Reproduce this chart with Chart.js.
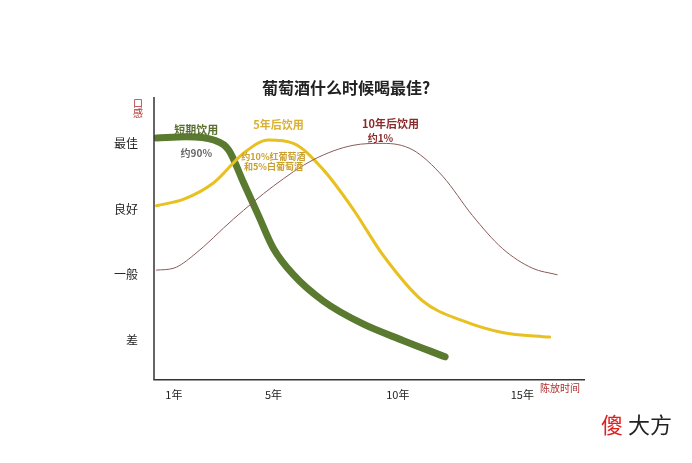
<!DOCTYPE html><html><head><meta charset="utf-8"><script src="https://cdn.jsdelivr.net/npm/chart.js"></script>
<style>body{margin:0;background:#fff}#w{width:692px;height:463px;position:relative}</style></head><body><div id="w"><canvas id="c"></canvas></div>
<script>
const yearTicks=[1,5,10,15];
const levelLabels=['差','一般','良好','最佳'];
const shortTerm=[[0.3,4.08],[1.5,4.1],[2.6,4.05],[3.2,3.9],[3.8,3.4],[4.4,2.9],[5,2.4],[5.8,2.0],[7,1.6],[8.6,1.25],[10.2,1.0],[11.9,0.75]];
const fiveYear=[[0.3,3.05],[1.4,3.15],[2.6,3.4],[3.8,3.85],[4.8,4.05],[5.8,4.0],[7,3.6],[8.2,3.0],[9.4,2.3],[11,1.6],[12.6,1.3],[14.2,1.12],[16.1,1.05]];
const tenYear=[[0.3,2.07],[1,2.1],[1.8,2.3],[3.4,2.85],[5,3.35],[6.6,3.75],[8.2,3.97],[9.4,4.0],[10.6,3.9],[11.8,3.5],[13,2.9],[14.2,2.4],[15.4,2.1],[16.4,2.0]];
const pts=a=>a.map(p=>({x:p[0],y:p[1]}));
const F='"Noto Sans CJK SC",sans-serif';
const notes=[
 {t:'短期饮用',x:1.9,y:4.2,c:'#5a7030',s:11},{t:'约90%',x:1.9,y:3.85,c:'#666',s:10},
 {t:'5年后饮用',x:5.2,y:4.28,c:'#d9b030',s:11},{t:'约10%红葡萄酒',x:5.0,y:3.8,c:'#c9a030',s:9},{t:'和5%白葡萄酒',x:5.0,y:3.65,c:'#c9a030',s:9},
 {t:'10年后饮用',x:9.7,y:4.3,c:'#8b2a2a',s:11},{t:'约1%',x:9.3,y:4.08,c:'#8b2a2a',s:10}];
const deco={id:'deco',afterDraw(ch){const g=ch.ctx,xs=ch.scales.x,ys=ch.scales.y;g.save();g.textAlign='center';g.textBaseline='middle';
 notes.forEach(n=>{g.fillStyle=n.c;g.font='bold '+n.s+'px '+F;g.fillText(n.t,xs.getPixelForValue(n.x),ys.getPixelForValue(n.y));});
 g.fillStyle='#222';g.font='bold 16px '+F;g.fillText('葡萄酒什么时候喝最佳?',346,88);
 g.fillStyle='#b03030';g.font='10px '+F;g.fillText('口',138,103);g.fillText('感',138,113);g.fillText('陈放时间',560,388);
 const x0=xs.left,y0=ys.bottom;g.strokeStyle='#333';g.lineWidth=1.5;g.beginPath();g.moveTo(x0,ys.top-3);g.lineTo(x0,y0);g.lineTo(xs.right+3,y0);g.stroke();
 g.font='22px '+F;g.fillStyle='#e02020';g.fillText('傻',612,425);g.fillStyle='#222';g.fillText('大方',650,425);g.restore();}};
const ds=(d,c,w)=>({data:pts(d),borderColor:c,borderWidth:w,borderCapStyle:'round',cubicInterpolationMode:'monotone',pointRadius:0});
new Chart(document.getElementById('c'),{type:'line',data:{datasets:[
 ds(tenYear,'#8b5a5a',1),ds(fiveYear,'#e8c020',3),ds(shortTerm,'#5a7a30',7)]},
 options:{animation:false,responsive:true,maintainAspectRatio:false,layout:{padding:{left:106,right:110,top:100,bottom:62}},
 plugins:{legend:{display:false},tooltip:{enabled:false}},
 scales:{x:{type:'linear',min:0.2,max:17.4,afterBuildTicks:a=>{a.ticks=yearTicks.map(v=>({value:v}))},grid:{display:false},border:{display:false},
   ticks:{callback:v=>v+'年',color:'#222',font:{family:F,size:11},autoSkip:false,maxRotation:0,padding:0}},
  y:{min:0.4,max:4.66,afterBuildTicks:a=>{a.ticks=[1,2,3,4].map(v=>({value:v}))},grid:{display:false},border:{display:false},
   ticks:{callback:v=>levelLabels[v-1],color:'#222',font:{family:F,size:12},padding:8}}}},plugins:[deco]});
</script></body></html>
